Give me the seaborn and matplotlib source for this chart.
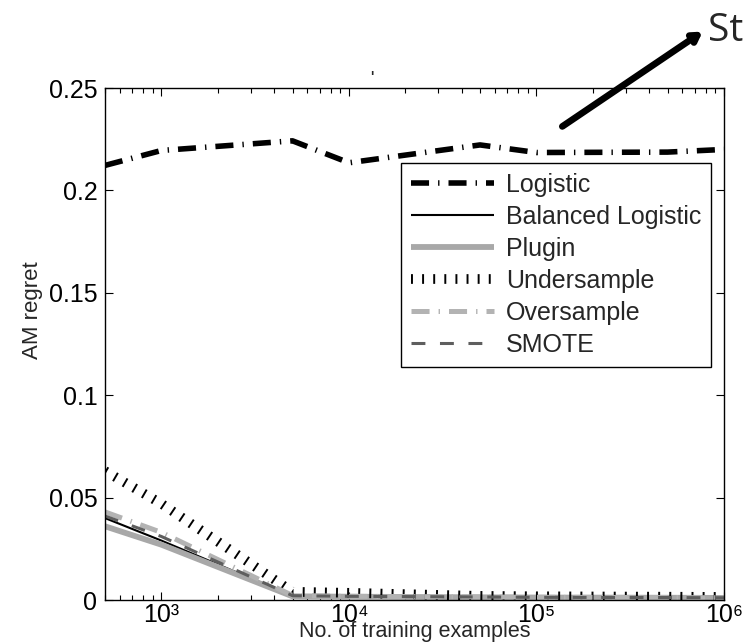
import matplotlib
matplotlib.use("Agg")
import matplotlib.pyplot as plt
import seaborn as sns
import numpy as np
from matplotlib.ticker import FixedLocator, FixedFormatter, FuncFormatter, LogLocator

# ---- data ----
n_train = [500, 1000, 5000, 10000, 50000, 100000, 500000, 1000000]
logistic = [0.2122, 0.2195, 0.2242, 0.2135, 0.2222, 0.2185, 0.2187, 0.2200]
balanced = [0.0400, 0.0290, 0.0020, 0.0017, 0.0014, 0.0012, 0.0011, 0.0010]
plugin = [0.0360, 0.0270, 0.0018, 0.0016, 0.0013, 0.0012, 0.0011, 0.0010]
undersample = [0.0630, 0.0470, 0.0040, 0.0035, 0.0020, 0.0018, 0.0016, 0.0015]
oversample = [0.0430, 0.0330, 0.0022, 0.0018, 0.0015, 0.0013, 0.0012, 0.0011]
smote = [0.0410, 0.0310, 0.0021, 0.0018, 0.0015, 0.0013, 0.0012, 0.0011]
series_names = ["Logistic", "Balanced Logistic", "Plugin", "Undersample", "Oversample", "SMOTE"]
y_ticks = [0, 0.05, 0.1, 0.15, 0.2, 0.25]
x_ticks = [1e3, 1e4, 1e5, 1e6]
x_tick_labels = ["10³", "10⁴", "10⁵", "10⁶"]
x_label = "No. of training examples"
y_label = "AM regret"

sns.set_style("ticks")
plt.rcParams["font.family"] = ["Liberation Sans", "DejaVu Sans"]
plt.rcParams["lines.scale_dashes"] = False

fig = plt.figure(figsize=(7.45, 6.44), dpi=100)
ax = fig.add_axes([105 / 745, 44 / 644, 619 / 745, 512 / 644])

styles = [
    (logistic, "black", 4.0, (0, (13, 6.5, 1.0, 6.5))),
    (balanced, "black", 1.5, None),
    (plugin, "#a8a8a8", 4.2, None),
    (undersample, "black", 7.0, (0, (1.4, 6.6))),
    (oversample, "#b3b3b3", 3.6, (0, (13, 6.5, 1.0, 6.5))),
    (smote, "#5e5e5e", 2.2, (0, (10, 10.5))),
]

for name, (vals, color, lw, dash) in zip(series_names, styles):
    sns.lineplot(x=n_train, y=vals, ax=ax, color=color, linewidth=lw, label=name)
    line = ax.lines[-1]
    if dash is not None:
        line.set_linestyle(dash)
    line.set_dash_capstyle("butt")
    line.set_solid_capstyle("butt")

ax.set_xscale("log")
ax.set_xlim(500, 1e6)
ax.set_ylim(0, 0.25)
ax.yaxis.set_major_locator(FixedLocator(y_ticks))
ax.yaxis.set_major_formatter(FuncFormatter(lambda v, p: "%g" % v))
ax.xaxis.set_major_locator(FixedLocator(x_ticks))
ax.xaxis.set_major_formatter(FixedFormatter(x_tick_labels))
ax.xaxis.set_minor_locator(LogLocator(base=10, subs=np.arange(2, 10), numticks=20))
ax.xaxis.set_minor_formatter(FuncFormatter(lambda v, p: ""))

ax.tick_params(axis="both", which="both", direction="in", top=True, right=True,
               colors="black", width=0.8)
ax.tick_params(axis="y", which="major", length=6, pad=5.5, labelsize=18)
ax.tick_params(axis="x", which="major", length=6, pad=2.0, labelsize=18)
ax.tick_params(axis="x", which="minor", length=3.5)
for sp in ax.spines.values():
    sp.set_visible(True)
    sp.set_color("black")
    sp.set_linewidth(1.0)

ax.set_ylabel(y_label, fontsize=16)
ax.yaxis.set_label_coords(-0.10, 0.566)

leg = ax.legend(loc="upper right", bbox_to_anchor=(0.979, 0.8535), borderaxespad=0,
                fontsize=18, frameon=True, fancybox=False, framealpha=1,
                edgecolor="black", handlelength=3.3, handletextpad=0.48,
                labelspacing=0.32, borderpad=0.4)
leg.get_frame().set_linewidth(1.0)

# x label sits at the very bottom of the figure, as in the reference
fig.text(ax.get_position().x0 + ax.get_position().width / 2, 1.5 / 644, x_label,
         fontsize=15.5, ha="center", va="bottom")

# annotation arrow and cut-off text
ax.annotate("", xy=(705 / 745, 1 - 30 / 644), xytext=(560 / 745, 1 - 128 / 644),
            xycoords="figure fraction", textcoords="figure fraction",
            arrowprops=dict(arrowstyle="->,head_length=0.5,head_width=0.3",
                            lw=4.8, color="black"),
            annotation_clip=False)
fig.text(708 / 745, 1 - 31 / 644, "St", fontsize=28, va="center", ha="left",
         family=["Open Sans", "DejaVu Sans"])
fig.text(372 / 745, 1 - 77 / 644, "'", fontsize=10, va="center", ha="center",
         fontweight="bold")

fig.savefig("out.png", dpi=100)
